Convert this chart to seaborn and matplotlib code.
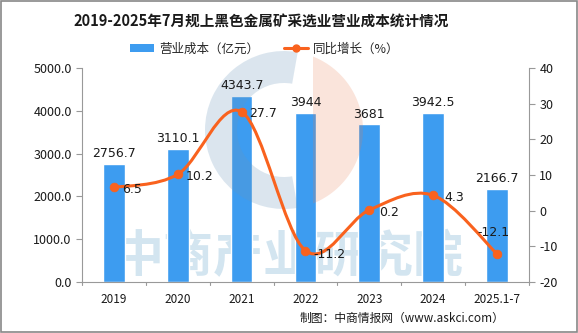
import matplotlib
matplotlib.use("Agg")
import matplotlib.pyplot as plt
import seaborn as sns
import numpy as np
import pandas as pd
from matplotlib.path import Path
from matplotlib.patches import PathPatch, Patch, Rectangle, Wedge, Polygon
from matplotlib.lines import Line2D

categories = ["2019", "2020", "2021", "2022", "2023", "2024", "2025.1-7"]
cost = [2756.7, 3110.1, 4343.7, 3944, 3681, 3942.5, 2166.7]
growth = [6.5, 10.2, 27.7, -11.2, 0.2, 4.3, -12.1]
cost_labels = ["2756.7", "3110.1", "4343.7", "3944", "3681", "3942.5", "2166.7"]
growth_labels = ["6.5", "10.2", "27.7", "-11.2", "0.2", "4.3", "-12.1"]
left_ticks = [0, 1000, 2000, 3000, 4000, 5000]
right_ticks = [-20, -10, 0, 10, 20, 30, 40]

sns.set_style("white")
plt.rcParams['font.family'] = ['Noto Sans CJK SC', 'DejaVu Sans']
plt.rcParams['axes.unicode_minus'] = False

BLUE = "#3d9cf0"
ORANGE = "#f9621e"
TXT = "#1a1a1a"
GRAY = "#999999"

fig = plt.figure(figsize=(5.78, 3.33), dpi=100)
ax = fig.add_axes([0.142, 0.153, 0.773, 0.643])

df = pd.DataFrame({"cat": categories, "cost": cost})
sns.barplot(data=df, x="cat", y="cost", ax=ax, color=BLUE, saturation=1,
            width=0.34, zorder=2)
ax.set_ylim(0, 5000)
ax.set_xlim(-0.5, len(categories) - 0.5)
ax.set_yticks(left_ticks)
ax.set_yticklabels([f"{v:.1f}" for v in left_ticks], fontsize=9, color=TXT)
ax.set_xlabel("")
ax.set_ylabel("")
ax.tick_params(axis="x", labelsize=8.5, colors=TXT, length=0, pad=8)
ax.tick_params(axis="y", length=4, color=GRAY, direction="out", left=True)
for s in ["top", "right"]:
    ax.spines[s].set_visible(False)
for s in ["left", "bottom"]:
    ax.spines[s].set_color(GRAY)
for b in np.arange(-0.5, len(categories), 1.0):
    ax.plot([b, b], [0, -80], color=GRAY, lw=0.8, clip_on=False, zorder=3)

# watermark text (under bars)
ax.text(0.5, 0.225, "中商产业研究院", transform=fig.transFigure, fontsize=36,
        color="#d3e5f0", ha="center", va="center", fontweight="bold", zorder=1)

# watermark logo (above bars, translucent)
cx, cy, R = 2.84, 2.03, 0.79
ax.add_patch(Wedge((cx, cy), R, 80, 280, width=0.32, transform=fig.dpi_scale_trans,
                   facecolor="#6a96ba", edgecolor="none", alpha=0.24, zorder=3,
                   clip_on=False))
th = np.linspace(-np.arccos(0.29 / R), np.arccos(0.29 / R), 60)
seg = np.column_stack([cx + R * np.cos(th), cy + R * np.sin(th)])
ax.add_patch(Polygon(seg, closed=True, transform=fig.dpi_scale_trans,
                     facecolor="#ea7a4c", edgecolor="none", alpha=0.2, zorder=3,
                     clip_on=False))

for i, (v, lab) in enumerate(zip(cost, cost_labels)):
    ax.text(i, v + 90, lab, ha="center", va="bottom", fontsize=9, color=TXT,
            family="DejaVu Sans", zorder=4)

ax2 = ax.twinx()
ax2.set_ylim(-20, 40)
ax2.set_yticks(right_ticks)
ax2.set_yticklabels([str(v) for v in right_ticks], fontsize=9, color=TXT)
ax2.tick_params(axis="y", length=4, color=GRAY, direction="out", right=True)
for s in ["top", "left", "bottom"]:
    ax2.spines[s].set_visible(False)
ax2.spines["right"].set_color(GRAY)

# smoothed line (Catmull-Rom to Bezier) through the data points
x = np.arange(len(growth), dtype=float)
y = np.array(growth, dtype=float)
verts = [(x[0], y[0])]
codes = [Path.MOVETO]
t = 1 / 6
for i in range(len(x) - 1):
    p0 = (x[i - 1], y[i - 1]) if i > 0 else (x[i], y[i])
    p1 = (x[i], y[i])
    p2 = (x[i + 1], y[i + 1])
    p3 = (x[i + 2], y[i + 2]) if i + 2 < len(x) else (x[i + 1], y[i + 1])
    c1 = (p1[0] + (p2[0] - p0[0]) * t, p1[1] + (p2[1] - p0[1]) * t)
    c2 = (p2[0] - (p3[0] - p1[0]) * t, p2[1] - (p3[1] - p1[1]) * t)
    verts += [c1, c2, p2]
    codes += [Path.CURVE4] * 3
ax2.add_patch(PathPatch(Path(verts, codes), facecolor="none", edgecolor=ORANGE,
                        lw=2.2, zorder=4, capstyle="round"))
gdf = pd.DataFrame({"x": x, "g": growth})
sns.scatterplot(data=gdf, x="x", y="g", ax=ax2, color=ORANGE, s=40,
                edgecolor=ORANGE, zorder=5, legend=False)
ax2.set_xlabel("")
ax2.set_ylabel("")

offsets = [(0.12, -0.6), (0.12, -0.6), (0.12, -0.6), (0.12, -1.0), (0.15, -0.6),
           (0.17, -0.6), (-0.05, 6.0)]
for i, (v, lab) in enumerate(zip(growth, growth_labels)):
    dx, dy = offsets[i]
    ha = "left" if i < 6 else "center"
    ax2.text(i + dx, v + dy, lab, ha=ha, va="center", fontsize=9, color=TXT,
             family="DejaVu Sans", zorder=6)

fig.text(0.452, 0.935, "2019-2025年7月规上黑色金属矿采选业营业成本统计情况",
         ha="center", va="center", fontsize=10.5, fontweight="bold", color=TXT)

handles = [Patch(facecolor=BLUE, edgecolor="none"),
           Line2D([0], [0], color=ORANGE, lw=2.2, marker="o", markersize=5)]
fig.legend(handles, ["营业成本（亿元）", "同比增长（%）"], loc="center",
           bbox_to_anchor=(0.458, 0.853), ncol=2, frameon=False, fontsize=9,
           handlelength=1.9, handleheight=0.6, columnspacing=2.0, handletextpad=0.4)

fig.text(0.873, 0.045, "制图：中商情报网（www.askci.com）", ha="right", va="center",
         fontsize=8.5, color=TXT)

fig.patches.append(Rectangle((0.002, 0.003), 0.996, 0.994, transform=fig.transFigure,
                             fill=False, edgecolor="#888888", lw=1.2))
fig.savefig("out.png", dpi=100)
